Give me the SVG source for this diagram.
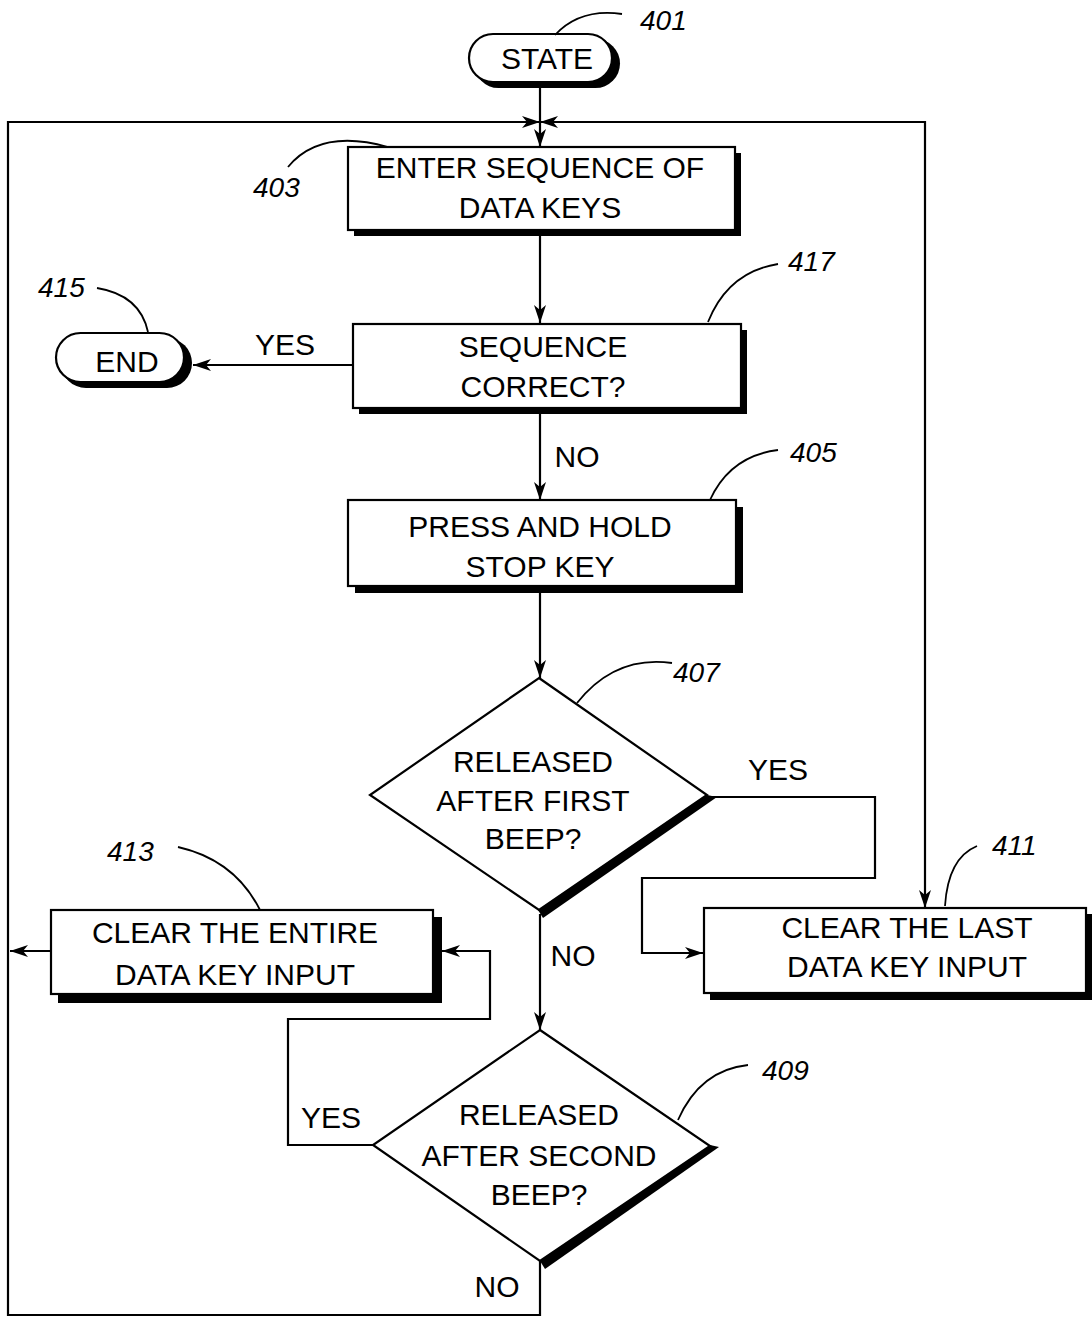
<svg xmlns="http://www.w3.org/2000/svg" width="1092" height="1317" viewBox="0 0 1092 1317">
<style>
.t{font-family:"Liberation Sans",Arial,sans-serif;font-size:30px;fill:#000;text-anchor:middle}
.n{font-family:"Liberation Sans",Arial,sans-serif;font-size:28px;font-style:italic;fill:#000}
.box{fill:#fff;stroke:#000;stroke-width:2.2}
.sh{fill:#000}
.ln{fill:none;stroke:#000;stroke-width:2.2}
.ld{fill:none;stroke:#000;stroke-width:1.8}
</style>
<defs>
<marker id="ah" viewBox="0 0 18 12" refX="18" refY="6" markerWidth="18" markerHeight="12" markerUnits="userSpaceOnUse" orient="auto-start-reverse">
<path d="M0,0 L18,6 L0,12 L5,6 z" fill="#000"/>
</marker>
</defs>
<g id="connectors">
<path class="ln" d="M540 88 V147" marker-end="url(#ah)"/>
<path class="ln" d="M540 1260 V1315 H8 V122 H540" marker-end="url(#ah)"/>
<path class="ln" d="M540 122 H925 V908" marker-start="url(#ah)" marker-end="url(#ah)"/>
<path class="ln" d="M540 236 V323" marker-end="url(#ah)"/>
<path class="ln" d="M353 365 H193" marker-end="url(#ah)"/>
<path class="ln" d="M540 414 V500" marker-end="url(#ah)"/>
<path class="ln" d="M540 593 V678" marker-end="url(#ah)"/>
<path class="ln" d="M707 797 H875 V878 H642 V953 H703" marker-end="url(#ah)"/>
<path class="ln" d="M540 914 V1030" marker-end="url(#ah)"/>
<path class="ln" d="M373 1145 H288 V1019 H490 V951 H442" marker-end="url(#ah)"/>
<path class="ln" d="M50 951 H10" marker-end="url(#ah)"/>
<text class="t" x="285" y="355">YES</text>
<text class="t" x="577" y="467">NO</text>
<text class="t" x="778" y="780">YES</text>
<text class="t" x="573" y="966">NO</text>
<text class="t" x="331" y="1128">YES</text>
<text class="t" x="497" y="1297">NO</text>
</g>
<g id="n401">
<rect class="sh" x="474" y="39" width="146" height="49" rx="24.5"/>
<rect class="box" x="469" y="34" width="143" height="48" rx="24"/>
<text class="t" x="547" y="69">STATE</text>
<path class="ld" d="M555 35 Q580 8 622 14"/>
<text class="n" x="640" y="30">401</text>
</g>
<g id="n403">
<rect class="sh" x="354" y="153" width="387" height="83"/>
<rect class="box" x="348" y="147" width="387" height="83"/>
<text class="t" x="540" y="178">ENTER SEQUENCE OF</text>
<text class="t" x="540" y="218">DATA KEYS</text>
<path class="ld" d="M288 167 Q320 128 388 147"/>
<text class="n" x="253" y="197">403</text>
</g>
<g id="n415">
<rect class="sh" x="61" y="338" width="131" height="50" rx="25"/>
<rect class="box" x="56" y="333" width="128" height="49" rx="24.5"/>
<text class="t" x="127" y="372">END</text>
<path class="ld" d="M97 288 Q140 295 148 332"/>
<text class="n" x="38" y="297">415</text>
</g>
<g id="n417">
<rect class="sh" x="359" y="330" width="388" height="84"/>
<rect class="box" x="353" y="324" width="388" height="84"/>
<text class="t" x="543" y="357">SEQUENCE</text>
<text class="t" x="543" y="397">CORRECT?</text>
<path class="ld" d="M708 322 Q728 272 778 264"/>
<text class="n" x="788" y="271">417</text>
</g>
<g id="n405">
<rect class="sh" x="355" y="507" width="388" height="86"/>
<rect class="box" x="348" y="500" width="388" height="86"/>
<text class="t" x="540" y="537">PRESS AND HOLD</text>
<text class="t" x="540" y="577">STOP KEY</text>
<path class="ld" d="M710 500 Q730 456 778 450"/>
<text class="n" x="790" y="462">405</text>
</g>
<g id="n407">
<path d="M707 795 L717 797 L543 918 L538 910 Z" fill="#000"/>
<path class="box" d="M539 678 L707 795 L539 910 L370 795 Z"/>
<text class="t" x="533" y="772">RELEASED</text>
<text class="t" x="533" y="811">AFTER FIRST</text>
<text class="t" x="533" y="849">BEEP?</text>
<path class="ld" d="M577 703 Q615 655 672 663"/>
<text class="n" x="673" y="682">407</text>
</g>
<g id="n411">
<rect class="sh" x="710" y="914" width="382" height="86"/>
<rect class="box" x="704" y="908" width="382" height="85"/>
<text class="t" x="907" y="938">CLEAR THE LAST</text>
<text class="t" x="907" y="977">DATA KEY INPUT</text>
<path class="ld" d="M945 906 Q948 858 977 846"/>
<text class="n" x="992" y="855">411</text>
</g>
<g id="n413">
<rect class="sh" x="58" y="917" width="384" height="86"/>
<rect class="box" x="51" y="910" width="382" height="84"/>
<text class="t" x="235" y="943">CLEAR THE ENTIRE</text>
<text class="t" x="235" y="985">DATA KEY INPUT</text>
<path class="ld" d="M178 847 Q235 860 260 910"/>
<text class="n" x="107" y="861">413</text>
</g>
<g id="n409">
<path d="M710 1145 L719 1147 L545 1269 L540 1261 Z" fill="#000"/>
<path class="box" d="M540 1030 L710 1146 L540 1261 L373 1145 Z"/>
<text class="t" x="539" y="1125">RELEASED</text>
<text class="t" x="539" y="1166">AFTER SECOND</text>
<text class="t" x="539" y="1205">BEEP?</text>
<path class="ld" d="M678 1120 Q700 1070 748 1065"/>
<text class="n" x="762" y="1080">409</text>
</g>
</svg>
